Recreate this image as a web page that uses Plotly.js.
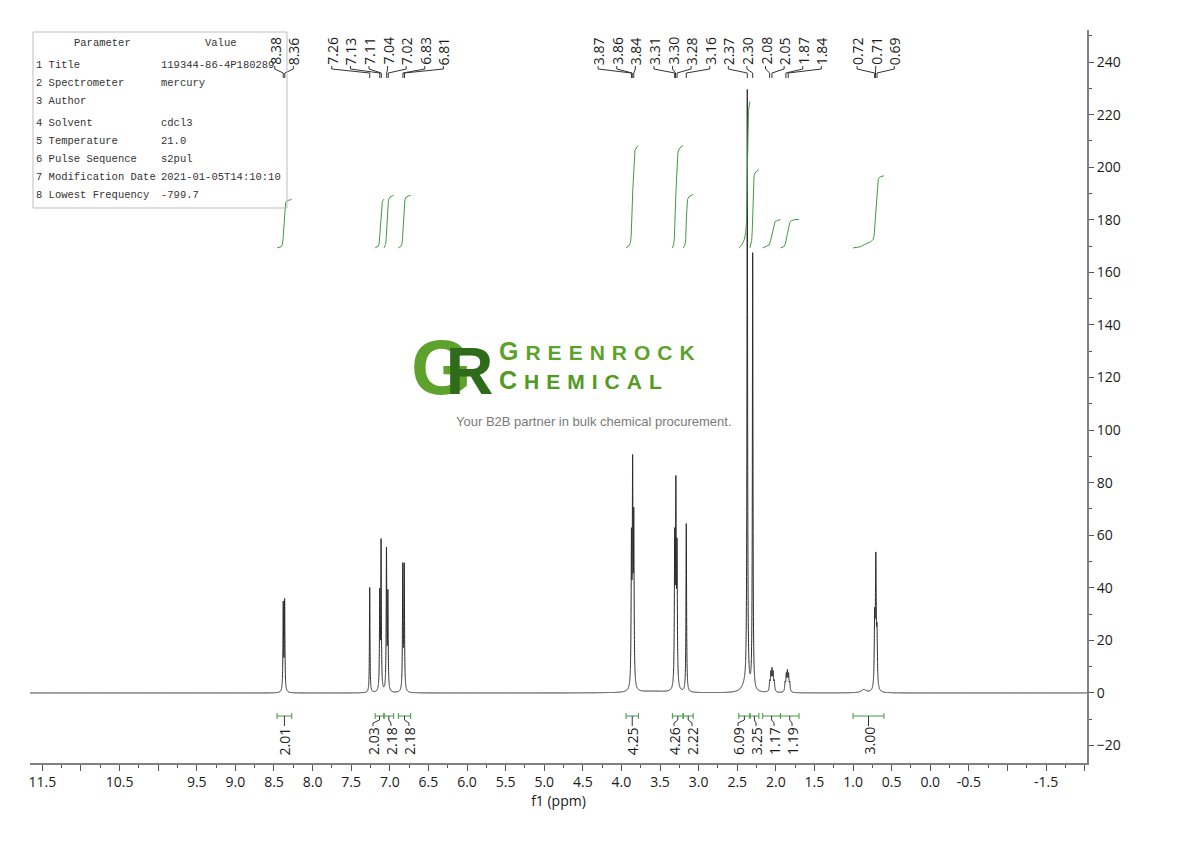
<!DOCTYPE html>
<html><head><meta charset="utf-8">
<script src="https://cdn.plot.ly/plotly-3.0.1.min.js"></script>
<style>html,body{margin:0;padding:0;background:#fff}#chart{width:1190px;height:841px}</style>
</head><body><div id="chart"></div>
<script>
// ---------------- data ----------------
const peakShift  = [8.380, 8.362, 7.260, 7.130, 7.113, 7.043, 7.025, 6.832, 6.813,
                    3.870, 3.855, 3.840, 3.310, 3.295, 3.280, 3.160, 2.370, 2.300,
                    2.080, 2.065, 2.050, 2.035, 2.020, 1.880, 1.865, 1.850, 1.835, 1.820,
                    0.720, 0.705, 0.690, 2.400, 0.860, 3.600];
const peakHeight = [33, 34, 40, 36, 56, 53, 36, 47, 47,
                    53, 79, 61, 54, 72, 50, 64, 227, 166,
                    3.5, 6.5, 7.5, 6.5, 3.5, 3.2, 6.0, 7.0, 6.0, 3.2,
                    25, 47.5, 19, 2.5, 1.2, 0.6];
const peakWidth  = [0.0045, 0.0045, 0.0040, 0.0045, 0.0045, 0.0045, 0.0045, 0.0045, 0.0045,
                    0.0050, 0.0050, 0.0050, 0.0050, 0.0050, 0.0050, 0.0045, 0.0045, 0.0045,
                    0.0060, 0.0060, 0.0060, 0.0060, 0.0060, 0.0060, 0.0060, 0.0060, 0.0060, 0.0060,
                    0.0060, 0.0060, 0.0060, 0.0500, 0.0400, 0.2500];

const peakLabels = [8.38, 8.36, 7.26, 7.13, 7.11, 7.04, 7.02, 6.83, 6.81,
                    3.87, 3.86, 3.84, 3.31, 3.30, 3.28, 3.16, 2.37, 2.30,
                    2.08, 2.05, 1.87, 1.84, 0.72, 0.71, 0.69];

const intFrom  = [8.46, 7.19, 7.075, 6.89, 3.94, 3.34, 3.20, 2.48, 2.335, 2.17, 1.94, 1.00];
const intTo    = [8.27, 7.075, 6.95, 6.73, 3.78, 3.20, 3.07, 2.335, 2.22, 1.94, 1.70, 0.60];
const intValue = [2.01, 2.03, 2.18, 2.18, 4.25, 4.26, 2.22, 6.09, 3.25, 1.17, 1.19, 3.00];

const xTickVals = [11.5, 11.0, 10.5, 10.0, 9.5, 9.0, 8.5, 8.0, 7.5, 7.0, 6.5, 6.0, 5.5, 5.0, 4.5,
                   4.0, 3.5, 3.0, 2.5, 2.0, 1.5, 1.0, 0.5, 0.0, -0.5, -1.0, -1.5, -2.0];
const xTickText = ['11.5', '', '10.5', '', '9.5', '9.0', '8.5', '8.0', '7.5', '7.0', '6.5', '6.0', '5.5', '5.0', '4.5',
                   '4.0', '3.5', '3.0', '2.5', '2.0', '1.5', '1.0', '0.5', '0.0', '-0.5', '', '-1.5', ''];

const tableParam = ['1 Title', '2 Spectrometer', '3 Author', '4 Solvent', '5 Temperature',
                    '6 Pulse Sequence', '7 Modification Date', '8 Lowest Frequency'];
const tableValue = ['119344-86-4P180289', 'mercury', '', 'cdcl3', '21.0', 's2pul',
                    '2021-01-05T14:10:10', '-799.7'];

// ---------------- layout geometry ----------------
const W = 1190, H = 841;
const M = {l: 30, r: 103, t: 30, b: 78};
const PW = W - M.l - M.r, PH = H - M.t - M.b;
const X_MAX = 11.66, X_MIN = -2.03;
const Y_MIN = -26.63, Y_MAX = 252.19;
const pxToPpm = px => X_MAX - (px - M.l) / PW * (X_MAX - X_MIN);
const ppmToPx = p => M.l + (X_MAX - p) / (X_MAX - X_MIN) * PW;
const pyToVal = py => Y_MAX - (py - M.t) / PH * (Y_MAX - Y_MIN);
const pxToPaper = px => (px - M.l) / PW;
const pyToPaper = py => 1 - (py - M.t) / PH;

// ---------------- spectrum ----------------
function spec(x) {
  let s = 0;
  for (let i = 0; i < peakShift.length; i++) {
    const d = x - peakShift[i], g = peakWidth[i];
    s += peakHeight[i] * g * g / (d * d + g * g);
  }
  return s;
}
const STEP = 0.0005;
let gridX = [];
for (let p = X_MAX; p >= X_MIN; p -= STEP) gridX.push(+p.toFixed(5));
gridX = gridX.concat(peakShift).sort((a, b) => b - a);
const gridY = gridX.map(spec);

// integral curves
const INT_BASE = 169.3, INT_SCALE = 9.15;
const ix = [], iy = [];
intFrom.forEach((a, k) => {
  const b = intTo[k];
  const xs = [], cum = [];
  let s = 0;
  for (let i = 0; i < gridX.length; i++) {
    const x = gridX[i];
    if (x <= a && x >= b) {
      s += gridY[i];
      xs.push(x); cum.push(s);
    }
  }
  xs.forEach((x, i) => { ix.push(x); iy.push(INT_BASE + cum[i] / s * intValue[k] * INT_SCALE); });
  ix.push(null); iy.push(null);
});

// ---------------- label spreading ----------------
function spread(pxs, gap) {
  let cl = pxs.map((p, i) => ({idx: [i], c: p}));
  let changed = true;
  while (changed) {
    changed = false;
    for (let i = 0; i < cl.length - 1; i++) {
      const a = cl[i], b = cl[i + 1];
      const aR = a.c + (a.idx.length - 1) / 2 * gap;
      const bL = b.c - (b.idx.length - 1) / 2 * gap;
      if (bL - aR < gap) {
        const idx = a.idx.concat(b.idx);
        const c = idx.reduce((s, j) => s + pxs[j], 0) / idx.length;
        cl.splice(i, 2, {idx, c});
        changed = true; break;
      }
    }
  }
  const out = new Array(pxs.length);
  cl.forEach(k => k.idx.forEach((j, n) => { out[j] = k.c + (n - (k.idx.length - 1) / 2) * gap; }));
  return out;
}

const shapes = [], annotations = [];
const SANS = 'Open Sans, Noto Sans, sans-serif';
const LABEL_FONT = {family: SANS, size: 14, color: '#1a1a1a'};
const GREEN = '#3f9b3f';

// peak labels
const peakPx = peakLabels.map(ppmToPx);
const peakLabPx = spread(peakPx, 18.6);
peakLabels.forEach((p, i) => {
  const lx = pxToPpm(peakLabPx[i]);
  shapes.push({type: 'path', xref: 'x', yref: 'y',
    path: `M ${lx},${pyToVal(66)} L ${lx},${pyToVal(69)} L ${p},${pyToVal(73)} L ${p},${pyToVal(78)}`,
    line: {color: '#333', width: 1}});
  annotations.push({x: lx, y: pyToVal(66), xref: 'x', yref: 'y', text: p.toFixed(2),
    textangle: -90, showarrow: false, xanchor: 'center', yanchor: 'bottom', borderpad: 0,
    font: LABEL_FONT});
});

// integral brackets + labels
const intCenter = intFrom.map((a, k) => (a + intTo[k]) / 2);
const intLabPx = spread(intCenter.map(ppmToPx), 18);
const yb = pyToVal(716), yb1 = pyToVal(713), yb2 = pyToVal(719);
intFrom.forEach((a, k) => {
  const b = intTo[k], c = intCenter[k];
  shapes.push({type: 'path', xref: 'x', yref: 'y',
    path: `M ${a},${yb1} L ${a},${yb2} M ${a},${yb} L ${b},${yb} M ${b},${yb1} L ${b},${yb2}`,
    line: {color: GREEN, width: 1}});
  const lx = pxToPpm(intLabPx[k]);
  shapes.push({type: 'path', xref: 'x', yref: 'y',
    path: `M ${c},${yb} L ${c},${pyToVal(720)} L ${lx},${pyToVal(723)} L ${lx},${pyToVal(726)}`,
    line: {color: '#333', width: 1}});
  annotations.push({x: lx, y: pyToVal(726), xref: 'x', yref: 'y', text: intValue[k].toFixed(2),
    textangle: -90, showarrow: false, xanchor: 'center', yanchor: 'top', borderpad: 0,
    font: LABEL_FONT});
});

// parameter table
shapes.push({type: 'rect', xref: 'paper', yref: 'paper',
  x0: pxToPaper(33), x1: pxToPaper(287), y0: pyToPaper(32), y1: pyToPaper(208),
  line: {color: '#bdbdbd', width: 1}, fillcolor: 'rgba(255,255,255,0)'});
const MONO = {family: 'Liberation Mono, DejaVu Sans Mono, monospace', size: 10.5, color: '#333'};
annotations.push({x: pxToPaper(102), y: pyToPaper(43), xref: 'paper', yref: 'paper', text: 'Parameter',
  showarrow: false, xanchor: 'center', yanchor: 'middle', font: MONO, borderpad: 0});
annotations.push({x: pxToPaper(221), y: pyToPaper(43), xref: 'paper', yref: 'paper', text: 'Value',
  showarrow: false, xanchor: 'center', yanchor: 'middle', font: MONO, borderpad: 0});
const rowY = [65, 83, 101, 123, 141, 159, 177, 195];
tableParam.forEach((t, i) => {
  annotations.push({x: pxToPaper(35), y: pyToPaper(rowY[i]), xref: 'paper', yref: 'paper', text: t,
    showarrow: false, xanchor: 'left', yanchor: 'middle', font: MONO, borderpad: 0});
  if (tableValue[i]) annotations.push({x: pxToPaper(160), y: pyToPaper(rowY[i]), xref: 'paper', yref: 'paper',
    text: tableValue[i], showarrow: false, xanchor: 'left', yanchor: 'middle', font: MONO, borderpad: 0});
});

// watermark logo
const LOGO = 'Liberation Sans, Arial, sans-serif';
annotations.push({x: pxToPaper(410), y: pyToPaper(367), xref: 'paper', yref: 'paper',
  text: '<b><span style="color:#5ca22b;font-size:78px;letter-spacing:-26px">G</span>' +
        '<span style="color:#2e6b1a;font-size:66px">R</span></b>',
  showarrow: false, xanchor: 'left', yanchor: 'middle', borderpad: 0,
  font: {family: LOGO, size: 66, color: '#2e6b1a'}});
const sp = 'letter-spacing:7px;';
annotations.push({x: pxToPaper(498), y: pyToPaper(351), xref: 'paper', yref: 'paper',
  text: `<b><span style="${sp}font-size:25px">G</span><span style="${sp}">REENROCK</span></b>`,
  showarrow: false, xanchor: 'left', yanchor: 'middle', borderpad: 0,
  font: {family: LOGO, size: 21, color: '#5ca22b'}});
annotations.push({x: pxToPaper(498), y: pyToPaper(380), xref: 'paper', yref: 'paper',
  text: `<b><span style="${sp}font-size:25px">C</span><span style="${sp}">HEMICAL</span></b>`,
  showarrow: false, xanchor: 'left', yanchor: 'middle', borderpad: 0,
  font: {family: LOGO, size: 21, color: '#529a22'}});
annotations.push({x: pxToPaper(594), y: pyToPaper(421), xref: 'paper', yref: 'paper',
  text: 'Your B2B partner in bulk chemical procurement.',
  showarrow: false, xanchor: 'center', yanchor: 'middle', borderpad: 0,
  font: {family: LOGO, size: 13, color: '#7a7a7a'}});

// ---------------- traces ----------------
const traces = [
  {x: gridX, y: gridY, type: 'scatter', mode: 'lines', line: {color: '#2b2b2b', width: 1, simplify: false},
   hoverinfo: 'skip', showlegend: false},
  {x: ix, y: iy, type: 'scatter', mode: 'lines', line: {color: GREEN, width: 1},
   connectgaps: false, hoverinfo: 'skip', showlegend: false}
];

const layout = {
  width: W, height: H, margin: M, paper_bgcolor: '#fff', plot_bgcolor: '#fff',
  showlegend: false,
  xaxis: {range: [X_MAX, X_MIN], showline: true, linecolor: '#808080', linewidth: 1.5,
    ticks: 'outside', ticklen: 6, tickcolor: '#555', tickwidth: 1,
    tickvals: xTickVals, ticktext: xTickText, showgrid: false, zeroline: false,
    tickfont: {family: SANS, size: 14, color: '#1a1a1a'},
    minor: {dtick: 0.25, tick0: 0, ticks: 'outside', ticklen: 3, tickcolor: '#555', showgrid: false},
    title: {text: 'f1 (ppm)', font: {family: SANS, size: 14, color: '#1a1a1a'}, standoff: 0}},
  yaxis: {range: [Y_MIN, Y_MAX], side: 'right', showline: true, linecolor: '#808080', linewidth: 2,
    ticks: 'outside', ticklen: 5, tickcolor: '#555', tickwidth: 1, dtick: 20, tick0: 0,
    showgrid: false, zeroline: false, ticklabelstandoff: 0,
    tickfont: {family: SANS, size: 14, color: '#1a1a1a'},
    minor: {dtick: 10, ticks: 'outside', ticklen: 3, tickcolor: '#555', showgrid: false}},
  shapes: shapes, annotations: annotations
};

Plotly.newPlot('chart', traces, layout, {staticPlot: true, displayModeBar: false});
</script>
</body></html>
